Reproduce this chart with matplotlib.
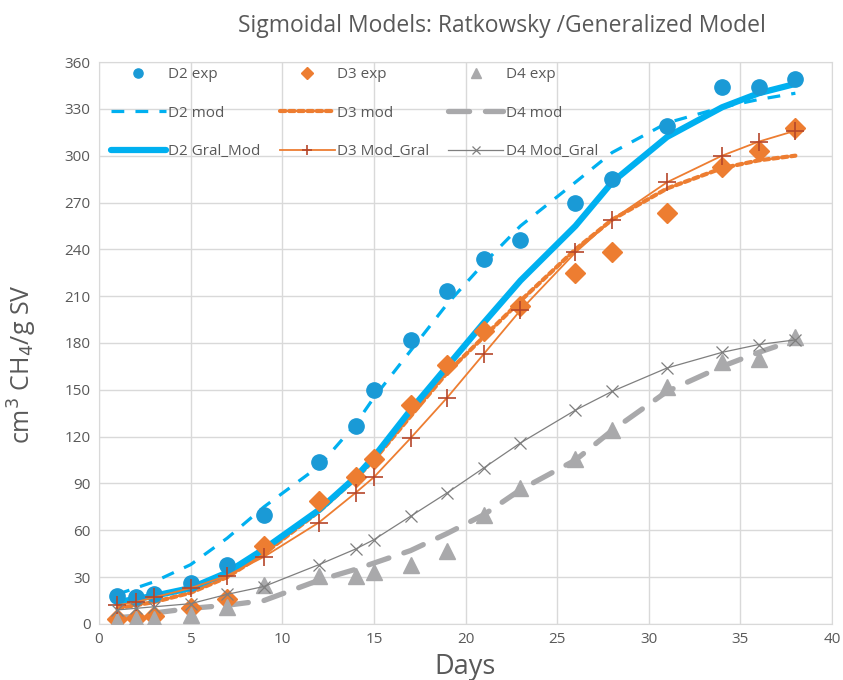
import numpy as np
import matplotlib
matplotlib.use("Agg")
import matplotlib.pyplot as plt

plt.rcParams['font.family'] = ['Open Sans', 'DejaVu Sans']

# dias de muestreo
days = [1, 2, 3, 5, 7, 9, 12, 14, 15, 17, 19, 21, 23, 26, 28, 31, 34, 36, 38]

# datos experimentales
d2_exp = [18, 17, 19, 26, 38, 70, 104, 127, 150, 182, 213, 234, 246, 270, 285, 319, 344, 344, 349]
d3_exp = [3, 4, 5, 10, 16, 50, 79, 94, 106, 140, 166, 188, 204, 225, 238, 263, 293, 303, 318]
d4_exp = [2, 3, 3, 6, 11, 25, 31, 31, 33, 38, 47, 70, 87, 106, 124, 152, 168, 170, 184]

# modelo Ratkowsky
d2_mod = [19, 23, 27, 38, 55, 75, 101, 128, 145, 175, 205, 231, 255, 283, 302, 321, 331, 336, 340]
d3_mod = [10, 12, 14, 20, 30, 45, 72, 93, 105, 133, 161, 184, 207, 240, 259, 279, 292, 297, 300]
d4_mod = [4, 5, 7, 10, 12, 15, 28, 35, 39, 47, 58, 70, 86, 105, 124, 149, 165, 174, 182]

# modelo generalizado
d2_gral = [14, 16, 18, 23, 33, 48, 73, 94, 107, 137, 165, 193, 220, 255, 283, 312, 331, 340, 346]
d3_gral = [12, 14, 17, 23, 31, 43, 65, 84, 94, 119, 145, 173, 201, 238, 259, 283, 300, 309, 316]
d4_gral = [9, 10, 11, 13, 19, 24, 38, 48, 54, 69, 84, 100, 116, 137, 149, 164, 174, 179, 182]

blue_pt = '#1a9ad6'
blue_ln = '#00b0f0'
orange = '#ed7d31'
cross_c = '#b5462a'
gray_pt = '#a9a9ab'
gray_ln = '#7f7f7f'
txt = '#595959'

fig = plt.figure(figsize=(8.43, 6.8), dpi=100)
ax = fig.add_axes([0.1174, 0.0824, 0.8696, 0.8264])

ax.plot(days, d2_exp, 'o', color=blue_pt, ms=11, label='D2 exp', zorder=5)
ax.plot(days, d2_mod, color=blue_ln, lw=2.3, dashes=(4, 3.5), label='D2 mod', zorder=3)
ax.plot(days, d2_gral, color=blue_ln, lw=4.5, solid_capstyle='round', label='D2 Gral_Mod', zorder=4)

ax.plot(days, d3_exp, 'D', color=orange, ms=10, label='D3 exp', zorder=5)
ax.plot(days, d3_mod, color=orange, lw=3, dashes=(1.3, 0.9), dash_capstyle='round', label='D3 mod', zorder=3)
ax.plot(days, d3_gral, color=orange, lw=1.3, marker='+', ms=13, mec=cross_c, mew=1.2,
        label='D3 Mod_Gral', zorder=6)

ax.plot(days, d4_exp, '^', color=gray_pt, ms=12, label='D4 exp', zorder=5)
ax.plot(days, d4_mod, color=gray_pt, lw=3.8, dashes=(4, 3), dash_capstyle='round', label='D4 mod', zorder=3)
ax.plot(days, d4_gral, color=gray_ln, lw=0.9, marker='x', ms=9, mew=0.9,
        label='D4 Mod_Gral', zorder=6)

ax.set_xlim(0, 40)
ax.set_ylim(0, 360)
ax.set_xticks(range(0, 41, 5))
ax.set_yticks(range(0, 361, 30))
ax.grid(True, color='#d9d9d9', lw=1)
ax.set_axisbelow(True)
ax.tick_params(length=0, labelsize=11, labelcolor=txt, pad=6)
for s in ax.spines.values():
    s.set_color('#d9d9d9')

ax.set_xlabel('Days', fontsize=19.5, color=txt, labelpad=4)
ax.set_ylabel('cm$^3$ CH$_4$/g SV', fontsize=18, color=txt)
ax.yaxis.set_label_coords(-0.082, 0.463)
fig.text(0.596, 0.962, 'Sigmoidal Models: Ratkowsky /Generalized Model', ha='center', va='center',
         fontsize=16.5, color=txt)

leg = ax.legend(ncol=3, loc='upper left', bbox_to_anchor=(0.008, 1.002), frameon=False,
                fontsize=11, handlelength=3.6, handletextpad=0.15, columnspacing=1.25,
                labelspacing=1.55, borderaxespad=0.0, markerscale=0.6)
for t in leg.get_texts():
    t.set_color(txt)

fig.savefig('out.png', dpi=100)
